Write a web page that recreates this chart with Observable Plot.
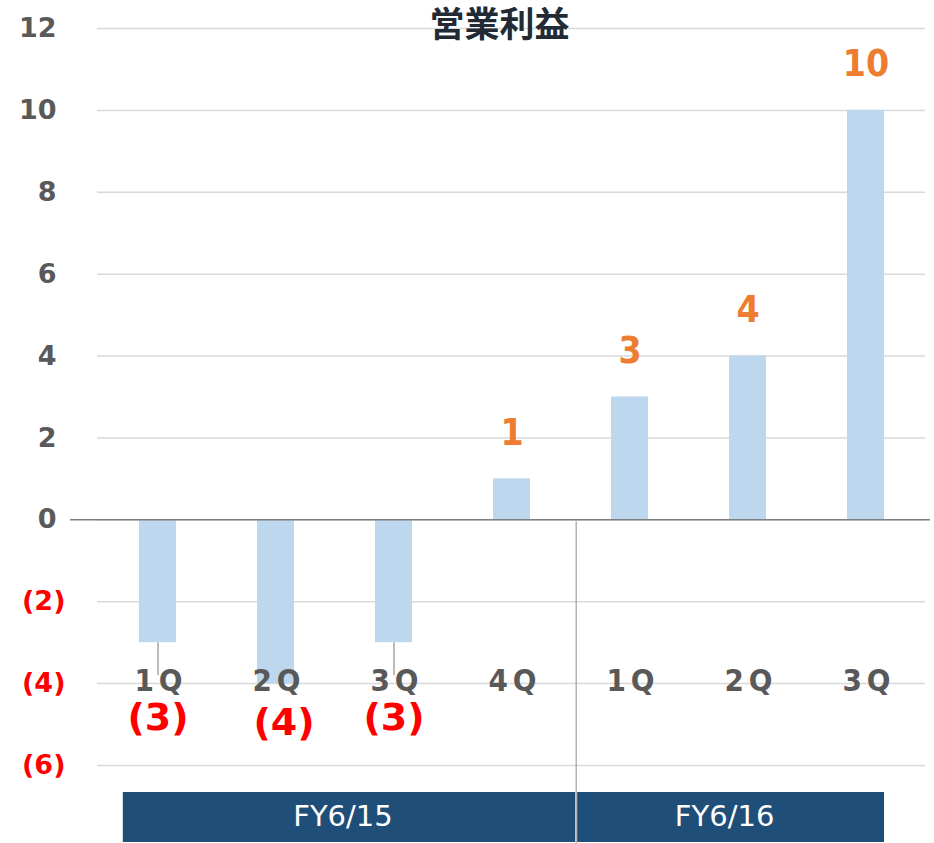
<!DOCTYPE html>
<html>
<head>
<meta charset="utf-8">
<script src="https://cdn.jsdelivr.net/npm/d3@7"></script>
<script src="https://cdn.jsdelivr.net/npm/@observablehq/plot@0.6"></script>
<style>
  html, body { margin: 0; padding: 0; background: #fff; }
  #chart svg { display: block; }
</style>
</head>
<body>
<div id="chart"></div>
<script>
const title = "営業利益";
const quarters = ["1Q", "2Q", "3Q", "4Q", "1Q", "2Q", "3Q"];
const fiscalYears = ["FY6/15", "FY6/15", "FY6/15", "FY6/15", "FY6/16", "FY6/16", "FY6/16"];
const values = [-3, -4, -3, 1, 3, 4, 10];
const yTicks = [-6, -4, -2, 0, 2, 4, 6, 8, 10, 12];
const groups = ["FY6/15", "FY6/16"];

const data = quarters.map((q, i) => ({key: fiscalYears[i] + " " + q, q, fy: fiscalYears[i], value: values[i]}));
const keys = data.map(d => d.key);
const fmt = v => v < 0 ? `(${-v})` : String(v);
const minValue = d3.min(values);

const condFont = "'DejaVu Sans Condensed', 'DejaVu Sans', sans-serif";
const wideFont = "'DejaVu Sans', sans-serif";

function groupBand(index, scales, values, dimensions) {
  const x = scales.x, y = scales.y;
  const bw = x.bandwidth(), step = x.step();
  const H = dimensions.height;
  const g = d3.create("svg:g");
  const first = fy => data.find(d => d.fy === fy).key;
  const last = fy => data.filter(d => d.fy === fy).slice(-1)[0].key;
  const boundary = x(first(groups[1])) - (step - bw) * 0.43;
  const spans = [
    [x(first(groups[0])) - (step - bw) / 5, boundary - 1],
    [boundary + 1, x(last(groups[1])) + bw]
  ];
  groups.forEach((fy, i) => {
    const [x0, x1] = spans[i];
    g.append("rect").attr("x", x0).attr("y", H - 51).attr("width", x1 - x0).attr("height", 50).attr("fill", "#1F4E79");
    g.append("text").attr("x", (x0 + x1) / 2 - 6).attr("y", H - 17).attr("text-anchor", "middle")
      .attr("fill", "#fff").attr("font-size", 29).attr("font-family", wideFont).text(fy);
  });
  g.append("line").attr("x1", boundary).attr("x2", boundary).attr("y1", y(0) + 2).attr("y2", H)
    .attr("stroke", "#8C8C8C").attr("stroke-width", 1);
  return g.node();
}

const chart = Plot.plot({
  width: 934,
  height: 843,
  marginTop: 28,
  marginBottom: 78,
  marginLeft: 97,
  marginRight: 9,
  style: {fontFamily: wideFont, background: "#fff"},
  x: {domain: keys, paddingInner: 0.687, paddingOuter: 0.343, axis: null},
  y: {domain: [-6, 12], axis: null},
  marks: [
    Plot.ruleY(yTicks, {stroke: "#D9D9D9", strokeWidth: 1.5}),
    Plot.barY(data, {x: "key", y: "value", fill: "#BDD7EE"}),
    Plot.ruleY([0], {stroke: "#7F7F7F", strokeWidth: 1.5, insetLeft: -27, insetRight: -5}),
    Plot.ruleX(data.filter(d => d.value < 0 && d.value > minValue), {x: "key", y1: "value", y2: "value", stroke: "#A6A6A6", strokeWidth: 1.5, insetBottom: -33}),
    Plot.text(yTicks.filter(t => t >= 0), {y: d => d, text: fmt, frameAnchor: "left", textAnchor: "end", dx: -41, fill: "#595959", fontWeight: "bold", fontSize: 27, fontFamily: wideFont}),
    Plot.text(yTicks.filter(t => t < 0), {y: d => d, text: fmt, frameAnchor: "left", textAnchor: "end", dx: -32, fill: "#FF0000", fontWeight: "bold", fontSize: 27, fontFamily: wideFont}),
    Plot.text(data, {x: "key", text: "q", frameAnchor: "bottom", lineAnchor: "bottom", dy: -75, dx: 3, fill: "#595959", fontWeight: "bold", fontSize: 31, fontFamily: condFont}),
    Plot.text(data.filter(d => d.value > 0), {x: "key", y: "value", text: d => fmt(d.value), lineAnchor: "bottom", dy: -34, fill: "#ED7D31", fontWeight: "bold", fontSize: 37, fontFamily: condFont}),
    Plot.text(data.filter(d => d.value < 0 && d.value > minValue), {x: "key", text: d => fmt(d.value), frameAnchor: "bottom", lineAnchor: "bottom", dy: -36, fill: "#FF0000", fontWeight: "bold", fontSize: 38, fontFamily: wideFont}),
    Plot.text(data.filter(d => d.value === minValue), {x: "key", text: d => fmt(d.value), frameAnchor: "bottom", lineAnchor: "bottom", dy: -31, dx: 8, fill: "#FF0000", fontWeight: "bold", fontSize: 38, fontFamily: wideFont}),
    Plot.text([title], {text: d => d, frameAnchor: "top", lineAnchor: "middle", dy: -3, dx: -12, fill: "#222A35", fontWeight: "bold", fontSize: 35, fontFamily: "'DejaVu Sans', 'Noto Sans CJK JP', sans-serif"}),
    groupBand
  ]
});

d3.select(chart).selectAll("text")
  .filter(function() { return /^\dQ$/.test(this.textContent); })
  .attr("letter-spacing", "5px");

document.getElementById("chart").append(chart);
</script>
</body>
</html>
